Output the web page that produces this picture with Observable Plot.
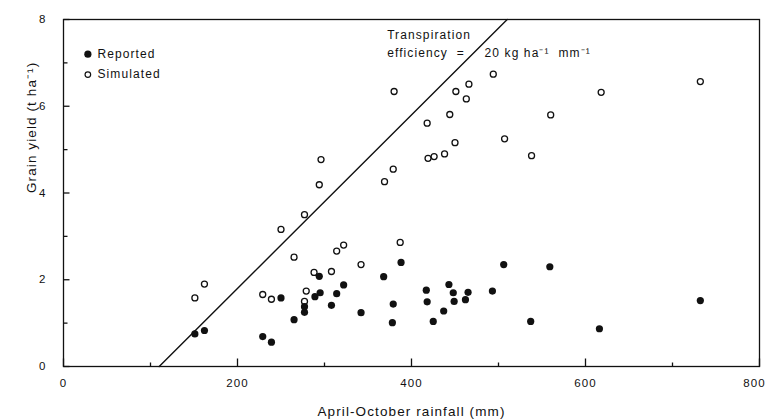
<!DOCTYPE html>
<html><head><meta charset="utf-8">
<script src="https://cdn.jsdelivr.net/npm/d3@7"></script>
<script src="https://cdn.jsdelivr.net/npm/@observablehq/plot@0.6"></script>
<style>
body{margin:0;background:#fff;}
#chart svg{font-family:"Liberation Sans",Arial,sans-serif;letter-spacing:1.1px;color:#111;}
</style></head><body><div id="chart"></div>
<script>
// Reported (filled) points
const reportedRain = [151,162,229,239,250,265,277,277,289,294,295,308,314,322,342,368,378,379,388,417,418,425,437,443,448,449,462,465,493,506,537,559,616,732];
const reportedYield = [0.75,0.83,0.69,0.56,1.58,1.08,1.25,1.38,1.61,2.08,1.70,1.41,1.68,1.88,1.24,2.07,1.01,1.44,2.40,1.76,1.49,1.04,1.28,1.89,1.70,1.50,1.54,1.71,1.74,2.35,1.04,2.30,0.87,1.52];
// Simulated (open) points
const simulatedRain = [151,162,229,239,250,265,277,279,288,308,314,322,342,277,294,296,369,379,387,380,419,418,426,438,444,450,451,463,466,494,507,538,560,618,732];
const simulatedYield = [1.58,1.90,1.66,1.55,3.16,2.52,1.50,1.74,2.17,2.19,2.66,2.80,2.35,3.50,4.19,4.77,4.26,4.55,2.86,6.34,4.80,5.61,4.84,4.90,5.81,5.16,6.34,6.17,6.51,6.74,5.25,4.86,5.80,6.32,6.57];
// Transpiration efficiency line: 20 kg/ha/mm = 0.02 t/ha/mm, x-intercept ~110 mm
const teSlope = 0.02;
const teIntercept = 110;
const xTicksMajor = [0,200,400,600,800];
const xTicksMinor = [100,300,500,700];
const yTicksMajor = [0,2,4,6,8];
const yTicksMinor = [1,3,5,7];
const legendLabels = ["Reported","Simulated"];
const xTitle = "April-October rainfall (mm)";
const yTitle = "Grain yield (t ha\u207B\u00B9)";

const reported = reportedRain.map((x,i)=>({x, y: reportedYield[i]}));
const simulated = simulatedRain.map((x,i)=>({x, y: simulatedYield[i]}));
const teLine = [0, 8].map(y => ({x: teIntercept + y / teSlope, y}));

const W = 768, H = 419, mL = 63, mR = 9, mT = 19, mB = 53;
const fw = W - mL - mR, fh = H - mT - mB;
const xDom = [0, 800], yDom = [0, 8];
const pxX = (xDom[1] - xDom[0]) / fw, pxY = (yDom[1] - yDom[0]) / fh;

const xTickLinks = [
  ...xTicksMajor.map(x => ({x, len: 8})),
  ...xTicksMinor.map(x => ({x, len: 4}))
];
const yTickLinks = [
  ...yTicksMajor.map(y => ({y, len: 6})),
  ...yTicksMinor.map(y => ({y, len: 4}))
];

const chart = Plot.plot({
  width: W, height: H,
  marginLeft: mL, marginRight: mR, marginTop: mT, marginBottom: mB,
  x: {domain: xDom},
  y: {domain: yDom},
  style: {fontSize: "12px", color: "#111", background: "#fff"},
  marks: [
    Plot.frame({stroke: "#111", strokeWidth: 1.3}),
    Plot.link(xTickLinks, {x1: "x", x2: "x", y1: () => yDom[0], y2: d => yDom[0] + d.len * pxY, stroke: "#111", strokeWidth: 1.3}),
    Plot.link(yTickLinks, {y1: "y", y2: "y", x1: () => xDom[0], x2: d => xDom[0] + d.len * pxX, stroke: "#111", strokeWidth: 1.3}),
    Plot.axisX(xTicksMajor.slice(0, -1), {tickSize: 0, tickPadding: 12, label: null, fontSize: 11.5}),
    Plot.axisX(xTicksMajor.slice(-1), {tickSize: 0, tickPadding: 12, label: null, fontSize: 11.5, dx: -5}),
    Plot.axisY(yTicksMajor, {tickSize: 0, tickPadding: 17, label: null, fontSize: 11.5}),
    Plot.text([xTitle], {frameAnchor: "bottom", dy: 45, lineAnchor: "middle", fontSize: 13.5, fill: "#111", style: {letterSpacing: "1.5px"}}),
    Plot.text([yTitle], {frameAnchor: "left", dx: -32, rotate: -90, lineAnchor: "middle", fontSize: 13.5, fill: "#111", style: {letterSpacing: "1.8px"}}),
    Plot.line(teLine, {x: "x", y: "y", stroke: "#111", strokeWidth: 1.4}),
    Plot.dot(simulated, {x: "x", y: "y", r: 3, stroke: "#111", strokeWidth: 1.3, fill: "#fff"}),
    Plot.dot(reported, {x: "x", y: "y", r: 3.6, fill: "#111", stroke: "none"}),
    Plot.dot([legendLabels[0]], {x: 28, y: 7.2, r: 3.6, fill: "#111"}),
    Plot.dot([legendLabels[1]], {x: 28, y: 6.73, r: 2.8, stroke: "#111", strokeWidth: 1.2, fill: "#fff"}),
    Plot.text([legendLabels[0]], {x: 39, y: 7.2, text: d => d, textAnchor: "start", fontSize: 12, fill: "#111"}),
    Plot.text([legendLabels[1]], {x: 39, y: 6.73, text: d => d, textAnchor: "start", fontSize: 12, fill: "#111"}),
    Plot.text(["Transpiration"], {x: 372, y: 7.64, text: d => d, textAnchor: "start", fontSize: 12, fill: "#111"}),
    Plot.text(["efficiency  ="], {x: 372, y: 7.22, text: d => d, textAnchor: "start", fontSize: 12, fill: "#111"}),
    Plot.text(["20 kg ha\u207B\u00B9  mm\u207B\u00B9"], {x: 484, y: 7.22, text: d => d, textAnchor: "start", fontSize: 12, fill: "#111"})
  ]
});
document.getElementById("chart").appendChild(chart);
</script></body></html>
